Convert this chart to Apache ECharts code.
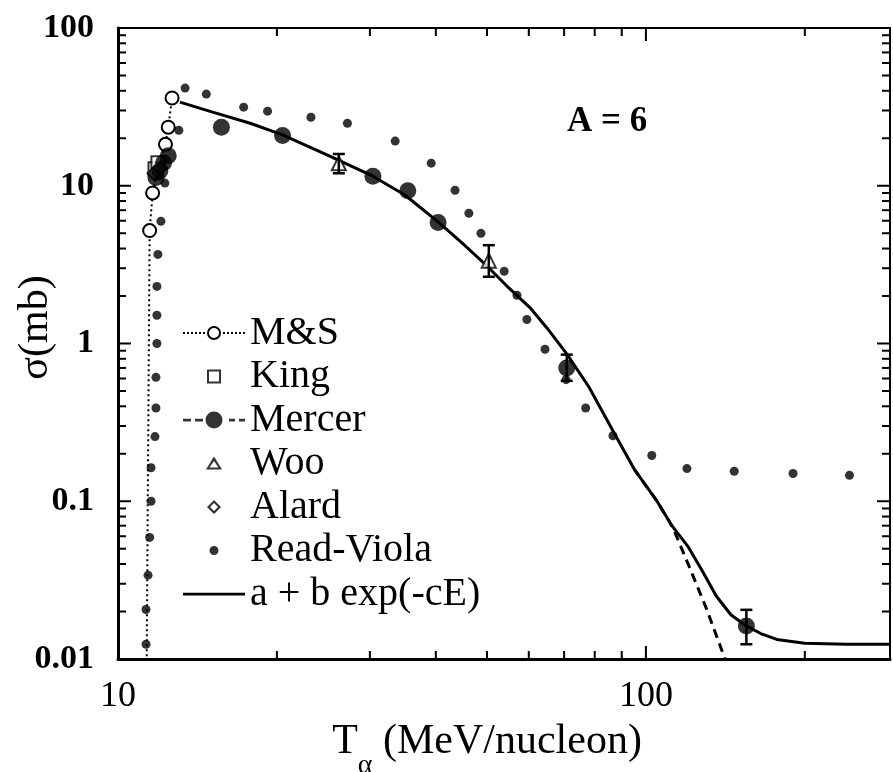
<!DOCTYPE html>
<html>
<head>
<meta charset="utf-8">
<script src="https://cdn.jsdelivr.net/npm/echarts@6/dist/echarts.min.js"></script>
<style>
html, body { margin: 0; padding: 0; background: #fff; }
#chart { width: 893px; height: 772px; }
</style>
</head>
<body>
<div id="chart"></div>
<script>
// cross section vs energy, A = 6
const serif = 'Liberation Serif';

// tick values / labels
const xLabelValues = [10, 100];
const xLabelText = ['10', '100'];
const yLabelValues = [0.01, 0.1, 1, 10, 100];
const yLabelText = ['0.01', '0.1', '1', '10', '100'];
const xMinorTicks = [20, 30, 40, 50, 60, 70, 80, 90, 200];
const yMinorTicks = [0.02, 0.03, 0.04, 0.05, 0.06, 0.07, 0.08, 0.09,
  0.2, 0.3, 0.4, 0.5, 0.6, 0.7, 0.8, 0.9,
  2, 3, 4, 5, 6, 7, 8, 9,
  20, 30, 40, 50, 60, 70, 80, 90];

// M&S (first point is where the dotted line leaves the bottom axis)
const msData = [[11.33, 0.009], [11.48, 5.2], [11.63, 9.0], [11.85, 12.0], [12.3, 18.3], [12.45, 23.5], [12.66, 36]];
const kingData = [[11.75, 12.8], [11.9, 14.0]];
const mercerData = [[11.8, 11.3], [12.0, 12.4], [12.2, 14.0], [12.45, 15.5], [15.7, 23.5], [20.5, 20.8],
  [30.4, 11.5], [35.4, 9.3], [40.4, 5.85], [70.8, 0.70], [155, 0.0162]];
const wooData = [[26.2, 13.9], [50.4, 3.35]];
const alardData = [[11.7, 12.0], [12.05, 13.0]];
const rvData = [[11.3, 0.0124], [11.3, 0.0206], [11.4, 0.034], [11.48, 0.059], [11.55, 0.10], [11.55, 0.163],
  [11.75, 0.257], [11.8, 0.39], [11.8, 0.61], [11.85, 1.0], [11.85, 1.51], [11.85, 2.3], [11.9, 3.67],
  [12.06, 5.96], [12.27, 10.4], [13.04, 22.5], [13.4, 41.6], [14.7, 38.1], [17.3, 31.5], [19.2, 29.7],
  [23.2, 27.2], [27.2, 24.9], [33.5, 19.2], [39.2, 13.9], [43.5, 9.36], [46.2, 6.69], [48.7, 4.99],
  [53.9, 2.87], [57.0, 2.02], [59.5, 1.42], [64.4, 0.92], [70.6, 0.59], [76.9, 0.39], [86.6, 0.26],
  [102.6, 0.195], [119.6, 0.161], [147, 0.155], [190, 0.15], [243, 0.146]];
// solid fit curve a + b exp(-cE)
const fitData = [[13.1, 33.9], [15, 29.5], [17.8, 24.9], [20.5, 21], [25, 15.6], [30.4, 11.5], [35, 8.7],
  [40.4, 5.9], [45, 4.3], [50, 3.1], [55, 2.25], [60.3, 1.69], [65, 1.25], [70.8, 0.86], [78, 0.53],
  [86.6, 0.28], [95, 0.16], [105, 0.10], [112, 0.07], [120, 0.052], [128, 0.036], [136, 0.025],
  [145, 0.019], [155, 0.0162], [165, 0.0145], [177, 0.0133], [200, 0.0126], [240, 0.0124], [290, 0.0124]];
// dashed curve (no constant term)
const dashData = [[95, 0.16], [105, 0.10], [112.5, 0.068], [121, 0.038], [130.5, 0.0205], [142, 0.0095]];
// error bars: [x, low, high]
const errData = [[26.2, 12.0, 15.9], [50.4, 2.65, 4.2], [70.8, 0.58, 0.85], [155, 0.0124, 0.0205]];

// legend icons drawn in a 62x18 box (tiny corner squares fix the box size)
const box = 'M0,0h0.1v0.1h-0.1z M61.9,17.9h0.1v0.1h-0.1z ';
const ring = (cx, cy, r1, r2) => 'M' + (cx - r1) + ',' + cy + 'a' + r1 + ',' + r1 + ' 0 1,0 ' + (2 * r1) + ',0a' + r1 + ',' + r1 + ' 0 1,0 ' + (-2 * r1) + ',0z ' +
  'M' + (cx - r2) + ',' + cy + 'a' + r2 + ',' + r2 + ' 0 1,1 ' + (2 * r2) + ',0a' + r2 + ',' + r2 + ' 0 1,1 ' + (-2 * r2) + ',0z ';
const disc = (cx, cy, r) => 'M' + (cx - r) + ',' + cy + 'a' + r + ',' + r + ' 0 1,0 ' + (2 * r) + ',0a' + r + ',' + r + ' 0 1,0 ' + (-2 * r) + ',0z ';
let dots = '';
[0, 4, 8, 12, 16, 20, 40, 44, 48, 52, 56, 60].forEach(x => { dots += 'M' + x + ',8h2v2h-2z '; });
let dashes = '';
[[0, 8], [12, 8], [46, 6], [56, 6]].forEach(d => { dashes += 'M' + d[0] + ',7.8h' + d[1] + 'v2.6h-' + d[1] + 'z '; });
const icons = {
  ms: 'path://' + box + dots + ring(31, 9, 7, 5),
  king: 'path://' + box + 'M24,2h14v14h-14z M26,4v10h10v-10z',
  mercer: 'path://' + box + dashes + disc(31, 9, 8.5),
  woo: 'path://' + box + 'M31,2L39,15L23,15z M31,6.5L26.5,13L35.5,13z',
  alard: 'path://' + box + 'M31,2L38,9L31,16L24,9z M31,5L27,9L31,13L35,9z',
  rv: 'path://' + box + disc(31, 9, 4.5),
  fit: 'path://' + box + 'M0,7.8h62v2.6h-62z'
};

function findLabel(v, values, texts) {
  const i = values.findIndex(t => Math.abs(Math.log10(v) - Math.log10(t)) < 1e-6);
  return i < 0 ? '' : texts[i];
}

// tick marks on all four sides, placed through the axes
function tickSeries(values, dir, len) {
  return {
    type: 'custom', silent: true, z: 6, clip: false,
    data: values.map(v => dir === 'x' ? [v, 1] : [20, v]),
    renderItem: (params, api) => {
      const cs = params.coordSys;
      const p = api.coord([api.value(0), api.value(1)]);
      const st = { stroke: '#000', lineWidth: 2 };
      if (dir === 'x') {
        return { type: 'group', children: [
          { type: 'line', shape: { x1: p[0], y1: cs.y + cs.height, x2: p[0], y2: cs.y + cs.height - len }, style: st },
          { type: 'line', shape: { x1: p[0], y1: cs.y, x2: p[0], y2: cs.y + len }, style: st }
        ] };
      }
      return { type: 'group', children: [
        { type: 'line', shape: { x1: cs.x, y1: p[1], x2: cs.x + len, y2: p[1] }, style: st },
        { type: 'line', shape: { x1: cs.x + cs.width, y1: p[1], x2: cs.x + cs.width - len, y2: p[1] }, style: st }
      ] };
    }
  };
}

const chart = echarts.init(document.getElementById('chart'));
chart.setOption({
  animation: false,
  backgroundColor: '#fff',
  title: {
    text: 'A = 6', left: 567, top: 104, padding: 0,
    textStyle: { fontFamily: serif, fontWeight: 'bold', fontSize: 35, color: '#000' }
  },
  grid: {
    left: 118, right: 3, top: 28, bottom: 113, containLabel: false, outerBoundsMode: 'none',
    show: true, borderColor: '#000', borderWidth: 2
  },
  legend: {
    orient: 'vertical', left: 183, top: 313, padding: 0,
    itemWidth: 62, itemHeight: 18, itemGap: 3.5, selectedMode: false,
    itemStyle: { color: '#000', borderWidth: 0 },
    textStyle: { fontFamily: serif, fontSize: 40, color: '#000', lineHeight: 40 },
    data: [
      { name: 'M&S', icon: icons.ms },
      { name: 'King', icon: icons.king },
      { name: 'Mercer', icon: icons.mercer },
      { name: 'Woo', icon: icons.woo },
      { name: 'Alard', icon: icons.alard },
      { name: 'Read-Viola', icon: icons.rv },
      { name: 'a + b exp(-cE)', icon: icons.fit }
    ]
  },
  xAxis: {
    type: 'log', logBase: 10, min: 10, max: 290,
    name: '{t|T}{s|α} (MeV/nucleon)', nameLocation: 'middle', nameGap: 45, nameMoveOverlap: false,
    nameTextStyle: {
      fontFamily: serif, fontSize: 42, color: '#000', padding: [0, 34, 0, 0],
      rich: {
        t: { fontFamily: serif, fontSize: 42, color: '#000' },
        s: { fontFamily: serif, fontSize: 28, color: '#000', verticalAlign: 'bottom', padding: [48, 0, 0, 0] }
      }
    },
    axisLine: { lineStyle: { color: '#000', width: 3 } },
    axisTick: { show: false },
    splitLine: { show: false },
    axisLabel: {
      fontFamily: serif, fontSize: 36, color: '#000', margin: 20, showMaxLabel: false,
      formatter: v => findLabel(v, xLabelValues, xLabelText)
    }
  },
  yAxis: {
    type: 'log', logBase: 10, min: 0.01, max: 100,
    name: 'σ(mb)', nameLocation: 'middle', nameGap: 61, nameMoveOverlap: false,
    nameTextStyle: { fontFamily: serif, fontSize: 42, color: '#000', padding: [0, 0, 0, 32] },
    axisLine: { lineStyle: { color: '#000', width: 3 } },
    axisTick: { show: false },
    splitLine: { show: false },
    axisLabel: {
      fontFamily: serif, fontSize: 34, fontWeight: 'bold', color: '#000', margin: 24,
      formatter: v => findLabel(v, yLabelValues, yLabelText)
    }
  },
  series: [
    {
      name: 'a + b exp(-cE)', type: 'line', data: fitData, symbol: 'none', z: 3,
      lineStyle: { color: '#000', width: 3 }
    },
    {
      name: 'Mercer curve', type: 'line', data: dashData, symbol: 'none', z: 3,
      lineStyle: { color: '#000', width: 3, type: [9, 6] }
    },
    {
      name: 'M&S', type: 'line', z: 4,
      data: msData.map((d, i) => i === 0 ? { value: d, symbol: 'none' } : d),
      symbol: 'circle', symbolSize: 13,
      itemStyle: { color: '#fff', borderColor: '#000', borderWidth: 2 },
      lineStyle: { color: '#000', width: 2, type: [2, 3] }
    },
    {
      name: 'King', type: 'scatter', data: kingData, symbol: 'rect', symbolSize: 13, z: 5,
      itemStyle: { color: '#fff', borderColor: '#000', borderWidth: 2 }
    },
    {
      name: 'Alard', type: 'scatter', data: alardData, symbol: 'diamond', symbolSize: 13, z: 5,
      itemStyle: { color: '#fff', borderColor: '#000', borderWidth: 2 }
    },
    {
      name: 'Mercer', type: 'scatter', data: mercerData, symbol: 'circle', symbolSize: 17, z: 5,
      itemStyle: { color: '#000' }
    },
    {
      name: 'Woo', type: 'scatter', data: wooData, symbol: 'triangle', symbolSize: 14, z: 5,
      itemStyle: { color: '#fff', borderColor: '#000', borderWidth: 2 }
    },
    {
      name: 'Read-Viola', type: 'scatter', data: rvData, symbol: 'circle', symbolSize: 9, z: 5,
      itemStyle: { color: '#000' }
    },
    {
      name: 'errors', type: 'custom', z: 6, silent: true,
      data: errData, encode: { x: 0, y: [1, 2] },
      renderItem: (params, api) => {
        const lo = api.coord([api.value(0), api.value(1)]);
        const hi = api.coord([api.value(0), api.value(2)]);
        const w = 6;
        const st = { stroke: '#000', lineWidth: 2.5 };
        return { type: 'group', children: [
          { type: 'line', shape: { x1: lo[0], y1: lo[1], x2: hi[0], y2: hi[1] }, style: st },
          { type: 'line', shape: { x1: lo[0] - w, y1: lo[1], x2: lo[0] + w, y2: lo[1] }, style: st },
          { type: 'line', shape: { x1: hi[0] - w, y1: hi[1], x2: hi[0] + w, y2: hi[1] }, style: st }
        ] };
      }
    },
    tickSeries(xLabelValues, 'x', 13),
    tickSeries(xMinorTicks, 'x', 8),
    tickSeries(yLabelValues, 'y', 13),
    tickSeries(yMinorTicks, 'y', 8)
  ]
});
</script>
</body>
</html>
